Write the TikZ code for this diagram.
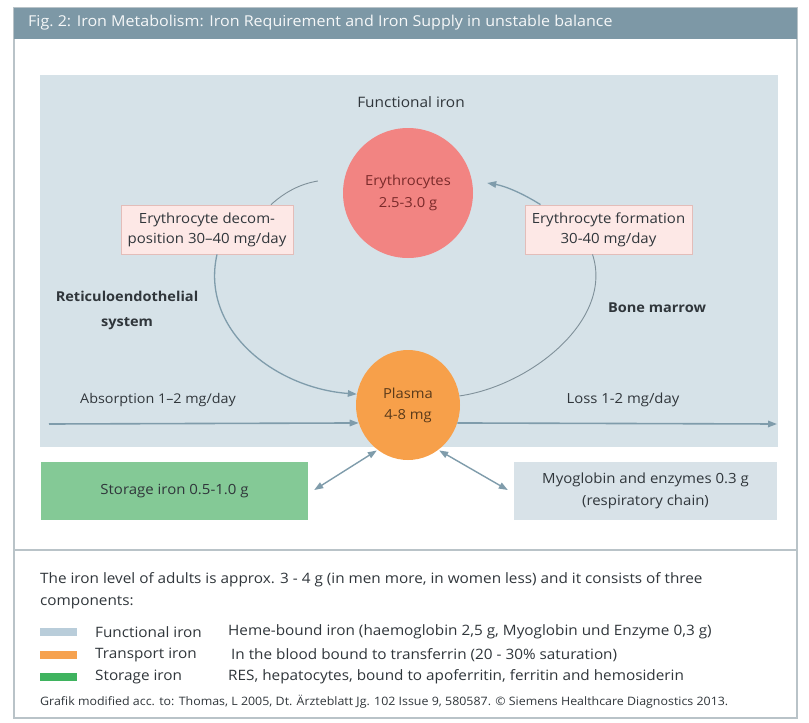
\documentclass[tikz,border=0pt]{standalone}
\usepackage{fontspec}
\setmainfont{Open Sans}[FakeStretch=1.07]
\usetikzlibrary{arrows.meta,shapes.geometric}
\definecolor{headc}{HTML}{7D98A6}
\definecolor{framec}{HTML}{B9C3C8}
\definecolor{panelc}{HTML}{D6E2E8}
\definecolor{eryc}{HTML}{F28482}
\definecolor{erytxt}{HTML}{7A2A2A}
\definecolor{plasc}{HTML}{F7A04A}
\definecolor{plastxt}{HTML}{5A3A1A}
\definecolor{pinkf}{HTML}{FDE8E6}
\definecolor{pinkd}{HTML}{E3BDB9}
\definecolor{greenf}{HTML}{84C996}
\definecolor{myof}{HTML}{D8E2E8}
\definecolor{arrc}{HTML}{7F9CAB}
\definecolor{cycc}{HTML}{7F9099}
\definecolor{txtc}{HTML}{30363B}
\definecolor{swblue}{HTML}{B9CDDA}
\definecolor{swor}{HTML}{F6A24F}
\definecolor{swgr}{HTML}{3FB35F}
\begin{document}
\begin{tikzpicture}[x=1pt,y=-1pt,
  txt/.style={text=txtc, inner sep=0pt},
  lbl/.style={txt, font=\fontsize{13.4}{20}\selectfont, align=center},
  bold/.style={txt, font=\fontsize{13.6}{25}\selectfont\bfseries, align=center},
  legtxt/.style={txt, anchor=west, font=\fontsize{14.3}{16}\selectfont},
  flow/.style={draw=arrc, line width=1.6pt, -{Triangle[length=9pt,width=6.5pt]}},
  dflow/.style={draw=arrc, line width=1.4pt, {Triangle[length=9pt,width=6.5pt]}-{Triangle[length=9pt,width=6.5pt]}},
  cyc/.style={draw=cycc, line width=0.9pt},
  cyca/.style={draw=arrc, line width=1.3pt, -{Triangle[length=9pt,width=6.5pt]}},
  pinkbox/.style={draw=pinkd, line width=0.8pt, fill=pinkf, minimum width=172pt, minimum height=49pt, align=center, text=txtc, inner sep=0pt, font=\fontsize{14}{20}\selectfont},
  lowbox/.style={minimum width=265pt, minimum height=58pt, align=center, text=txtc, inner sep=0pt, font=\fontsize{14}{22}\selectfont},
  swatch/.style={minimum width=37pt, minimum height=8pt, inner sep=0pt}
]
\useasboundingbox (0,0) rectangle (809,723);
\fill[white] (0,0) rectangle (809,723);
% frame and header
\draw[framec, line width=1.5pt] (14,8) rectangle (797,718);
\fill[headc] (14,8) rectangle (797,39);
\node[anchor=west, text=white!92!headc, inner sep=0pt, font=\fontsize{15}{16}\selectfont] (title) at (28,23)
  {Fig.~2: Iron Metabolism: Iron Requirement and Iron Supply in unstable balance};
% panel
\fill[panelc] (40,75) rectangle (778,447);
\node[txt, font=\fontsize{14.4}{16}\selectfont] (func) at (411,102) {Functional iron};
% main nodes
\node[ellipse, fill=eryc, minimum width=130pt, minimum height=130pt, inner sep=0pt,
  text=erytxt, align=center, font=\fontsize{13.8}{22}\selectfont] (ery) at (408,193) {Erythrocytes\\2.5-3.0 g};
\node[pinkbox] (dec) at (207,229.5) {Erythrocyte decom-\\position 30--40 mg/day};
\node[pinkbox, minimum width=167pt] (form) at (608.5,229.5) {Erythrocyte formation\\30-40 mg/day};
\node[bold] (res) at (127,310.5) {Reticuloendothelial\\system};
\node[bold] (bone) at (657,308) {Bone marrow};
\node[lbl] (abs) at (158,400) {Absorption 1--2 mg/day};
\node[lbl, font=\fontsize{13.9}{20}\selectfont] (loss) at (623,400) {Loss 1-2 mg/day};
\node[ellipse, fill=plasc, minimum width=104pt, minimum height=110pt, inner sep=0pt,
  text=plastxt, align=center, font=\fontsize{13.8}{21}\selectfont] (plas) at (408,405) {Plasma\\4-8 mg};
% lower boxes
\node[lowbox, fill=greenf, minimum width=267pt] (stor) at (174.5,491) {Storage iron 0.5-1.0 g};
\node[lowbox, fill=myof, minimum width=263pt] (myo) at (645.5,491) {Myoglobin and enzymes 0.3 g\\(respiratory chain)};
% free ends
\coordinate (absin) at (49,424);
\coordinate (lossout) at (777,424);
% cycle
\draw[cyc] ([xshift=64pt]dec.north) .. controls (285,192) and (300,184) .. ([shift={(-25pt,12pt)}]ery.west);
\draw[cyca] ([xshift=-68pt]form.north) .. controls (522,193) and (505,186) .. ([shift={(14pt,10pt)}]ery.east);
\draw[cyca] ([xshift=10pt]dec.south) .. controls (200,330) and (275,388) .. (plas.168);
\draw[cyc] ([xshift=-16pt]form.south) .. controls (614,320) and (530,386) .. (plas.10);
% in / out
\draw[flow] (absin) -- (plas.200);
\draw[flow] (plas.340) -- (lossout);
\draw[dflow, shorten <=1pt] (plas.236) -- ([shift={(6pt,1pt)}]stor.east);
\draw[dflow, shorten <=1pt] (plas.304) -- ([shift={(-6pt,1pt)}]myo.west);
% separator
\draw[framec, line width=1.2pt] (14,550) -- (797,550);
% legend
\node[legtxt] (l1) at (40,580) {The iron level of adults is approx. 3 - 4 g (in men more, in women less) and it consists of three};
\node[legtxt] (l2) at (40,602) {components:};
\node[swatch, fill=swblue, anchor=west] (s1) at (40,632) {};
\node[swatch, fill=swor, anchor=west] (s2) at (40,655) {};
\node[swatch, fill=swgr, anchor=west] (s3) at (40,677) {};
\node[legtxt] (n1) at (95,632) {Functional iron};
\node[legtxt] (n2) at (95,655) {Transport iron};
\node[legtxt] (n3) at (95,677) {Storage iron};
\node[legtxt] (d1) at (228,632) {Heme-bound iron (haemoglobin 2,5 g, Myoglobin und Enzyme 0,3 g)};
\node[legtxt] (d2) at (231,655) {In the blood bound to transferrin (20 - 30\% saturation)};
\node[legtxt] (d3) at (228,677) {RES, hepatocytes, bound to apoferritin, ferritin and hemosiderin};
\node[legtxt, font=\fontsize{11.6}{12}\selectfont] (foot) at (40,702) {Grafik modified acc. to: Thomas, L 2005, Dt. Ärzteblatt Jg. 102 Issue 9, 580587. © Siemens Healthcare Diagnostics 2013.};
\end{tikzpicture}
\end{document}
